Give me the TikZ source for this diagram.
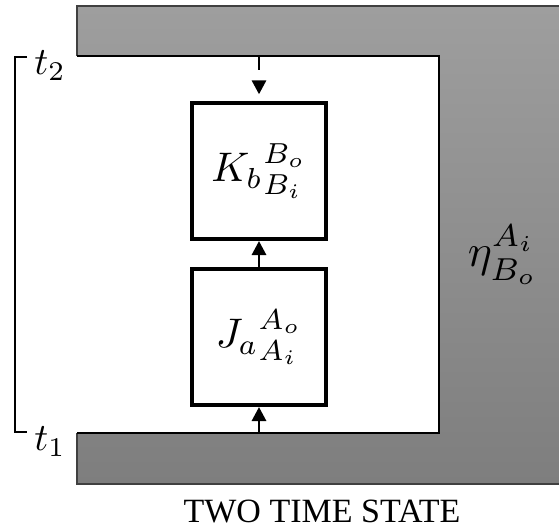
\documentclass[tikz,border=0pt]{standalone}
\usepackage{amsmath}
\usepackage{fontspec}
\setmainfont{Liberation Serif}
\usetikzlibrary{arrows.meta}
\definecolor{envtop}{RGB}{158,158,158}
\definecolor{envbot}{RGB}{126,126,126}
\newcommand{\scmath}[2]{\scalebox{#1}{$#2$}}
\newcommand{\boxmath}[1]{\raisebox{-5pt}{\scmath{3.1}{#1}}\hspace{10pt}}

\begin{document}
\begin{tikzpicture}[x=0.75pt, y=-0.75pt,
  box/.style={draw, line width=3pt, minimum width=100pt, minimum height=102pt, inner sep=0pt},
  lbl/.style={inner sep=0pt},
  arr/.style={line width=2.2pt, -{Triangle[length=10.5pt, width=10.5pt]}},
  >={Triangle[length=10.5pt, width=10.5pt]}]
\useasboundingbox (0,0) rectangle (559,528);
% environment around the two boxes
\shade[top color=envtop, bottom color=envbot] (77,6) -- (559,6) -- (559,484) -- (77,484) -- (77,433) -- (439,433) -- (439,56) -- (77,56) -- cycle;
\draw[line width=0.9pt, black!75] (559,6) -- (77,6) -- (77,56) (77,433) -- (77,484) -- (559,484);
\draw[line width=1.6pt] (77,56) -- (439,56) -- (439,433) -- (77,433);
\coordinate (tin) at (259,56); \coordinate (tout) at (259,433);
\node[box] (K) at (259,171) {\boxmath{K_b{}^{B_o}_{B_i}}};
\node[box] (J) at (259,337) {\boxmath{J_a{}^{A_o}_{A_i}}};
\node[lbl] (eta) at (503,255) {\scmath{3.4}{\eta^{A_i}_{B_o}}};
\node[lbl] (t2) at (50,66) {\scmath{2.9}{t_2}};
\node[lbl] (t1) at (50,442) {\scmath{2.9}{t_1}};
\node[inner sep=0pt, font=\fontsize{25.5}{30}\selectfont] (title) at (322,511) {TWO TIME STATE};
\draw[line width=1.5pt] (27,57) -- (15,57) -- (15,432) -- (27,432);
\draw[arr, dash pattern=on 10.5pt off 20pt, shorten >=5pt] (tin) -- (K);
\foreach \a/\b in {J/K,tout/J}
  \draw[arr] (\a) -- (\b);
\end{tikzpicture}
\end{document}
